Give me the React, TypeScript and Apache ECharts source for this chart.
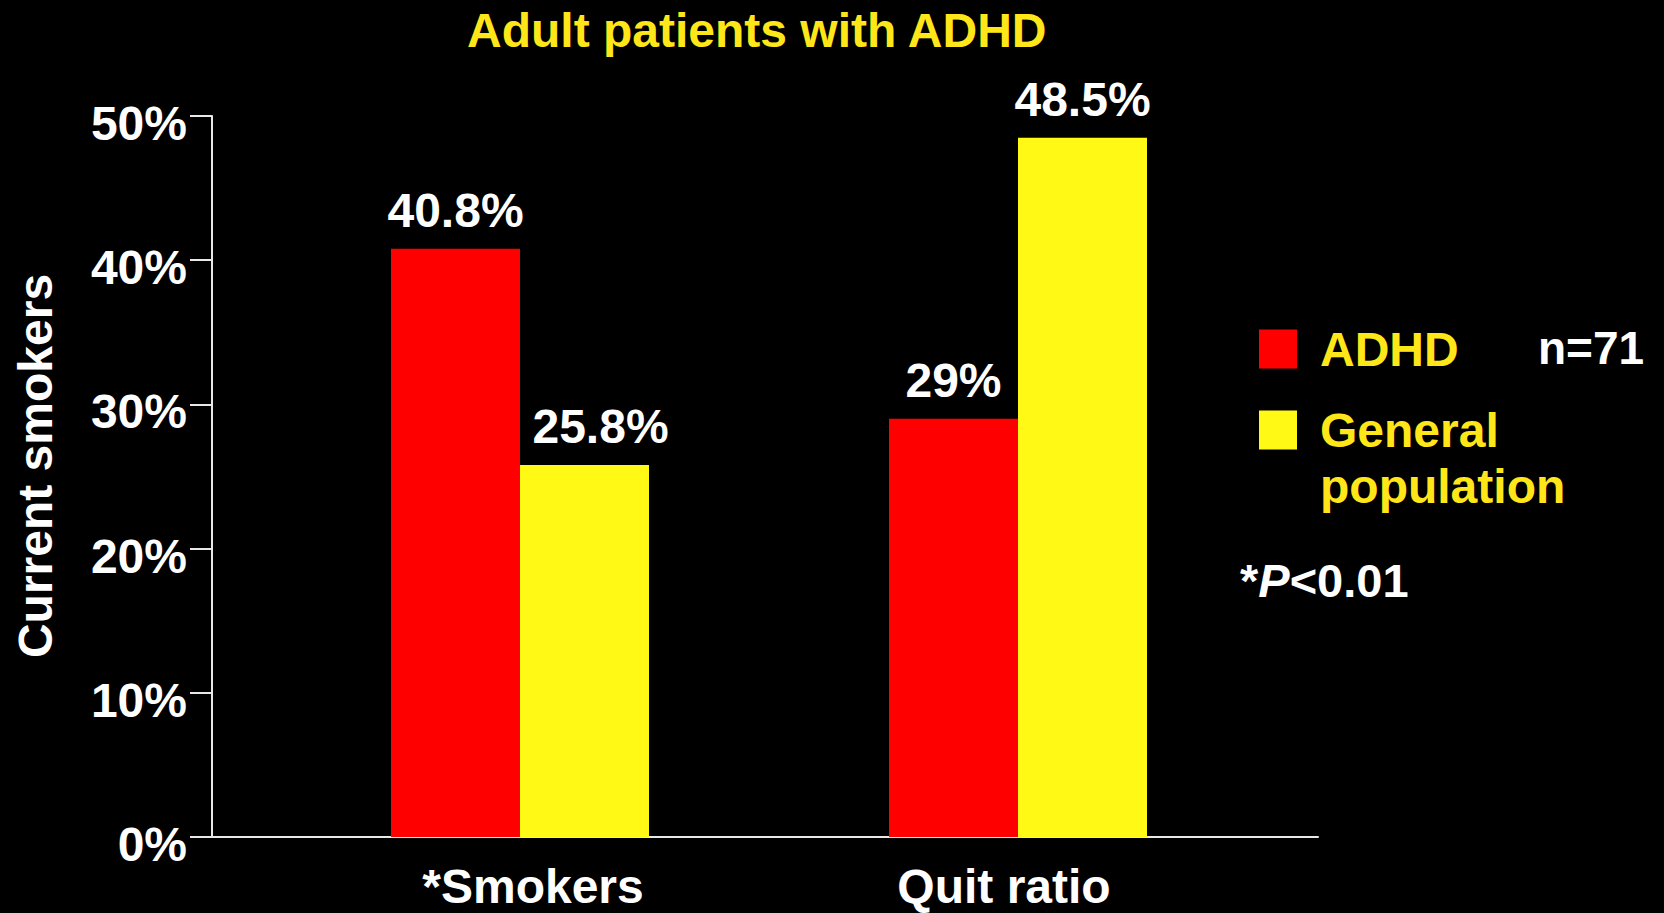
import { useEffect, useRef } from 'react';
import * as echarts from 'echarts';

// Chart data
const categories = ['*Smokers', 'Quit ratio'];
const seriesNames = ['ADHD', 'General population'];
const adhdValues = [40.8, 29];
const generalValues = [25.8, 48.5];
const axisMin = 0;
const axisMax = 50;
const axisStep = 10;
const titleText = 'Adult patients with ADHD';
const yAxisTitle = 'Current smokers';
const sampleNote = 'n=71';

// Styling
const FONT = '"Liberation Sans", Arial, Helvetica, sans-serif';
const WHITE = '#ffffff';
const RED = '#ff0000';
const YELLOW_BAR = '#fff915';
const YELLOW_TEXT = '#ffe619';
const AXIS_COLOR = '#e8e8e8';
const categoryLabelShift = [13, -14];
const generalLabelShift = [16, 0];

const plotTop = 116;
const plotBottom = 76;

export default function App() {
  const ref = useRef<HTMLDivElement>(null);

  useEffect(() => {
    document.body.style.margin = '0';
    document.body.style.background = '#000';
    if (!ref.current) return;
    const chart = echarts.init(ref.current, undefined, { renderer: 'svg' });

    const boldText = (size: number, color: string) => ({
      color,
      fontSize: size,
      fontWeight: 'bold' as const,
      fontFamily: FONT,
    });

    const option: any = {
      animation: false,
      backgroundColor: '#000000',
      textStyle: { fontFamily: FONT, fontWeight: 'bold' },
      title: {
        text: titleText,
        left: 467,
        top: 6,
        padding: 0,
        textStyle: boldText(48, YELLOW_TEXT),
      },
      legend: [
        {
          data: [seriesNames[0]],
          orient: 'vertical',
          left: 1259,
          top: 325,
          padding: 0,
          icon: 'rect',
          itemWidth: 38,
          itemHeight: 39,
          selectedMode: false,
          textStyle: { ...boldText(48, YELLOW_TEXT), padding: [0, 0, 0, 18] },
        },
        {
          data: [seriesNames[1]],
          orient: 'vertical',
          left: 1259,
          top: 346,
          padding: 0,
          icon: 'rect',
          itemWidth: 38,
          itemHeight: 39,
          selectedMode: false,
          // blank first line keeps the swatch level with "General"
          formatter: (name: string) => ' \n' + name.replace(' ', '\n'),
          textStyle: { ...boldText(48, YELLOW_TEXT), lineHeight: 56, padding: [0, 0, 0, 18] },
        },
      ],
      grid: [
        { left: 212, right: 346, top: plotTop, bottom: plotBottom },
        { left: 271, right: 397, top: plotTop, bottom: plotBottom },
      ],
      xAxis: [
        {
          type: 'category',
          gridIndex: 0,
          data: categories,
          axisLine: { show: true, lineStyle: { color: AXIS_COLOR, width: 2 } },
          axisTick: { show: false },
          axisLabel: { show: false },
          splitLine: { show: false },
        },
        {
          type: 'category',
          gridIndex: 1,
          data: categories.map((c, i) => ({
            value: c,
            textStyle: {
              padding: categoryLabelShift[i] >= 0
                ? [0, 0, 0, categoryLabelShift[i] * 2]
                : [0, -categoryLabelShift[i] * 2, 0, 0],
            },
          })),
          axisLine: { show: false },
          axisTick: { show: false },
          splitLine: { show: false },
          axisLabel: { ...boldText(48, WHITE), margin: 29, lineHeight: 40, interval: 0 },
        },
      ],
      yAxis: [
        {
          type: 'value',
          gridIndex: 0,
          min: axisMin,
          max: axisMax,
          interval: axisStep,
          axisLine: { show: true, lineStyle: { color: AXIS_COLOR, width: 2 } },
          axisTick: { show: true, length: 22, lineStyle: { color: AXIS_COLOR, width: 2 } },
          splitLine: { show: false },
          axisLabel: {
            ...boldText(48, WHITE),
            margin: 25,
            formatter: '{value}%',
            verticalAlign: 'top',
            lineHeight: 15,
          },
          name: yAxisTitle,
          nameLocation: 'middle',
          nameGap: 153,
          nameTextStyle: { ...boldText(48, WHITE), padding: [0, 0, 0, 21] },
        },
        {
          type: 'value',
          gridIndex: 1,
          min: axisMin,
          max: axisMax,
          interval: axisStep,
          show: false,
          splitLine: { show: false },
        },
      ],
      series: [
        {
          name: seriesNames[0],
          type: 'bar',
          xAxisIndex: 1,
          yAxisIndex: 1,
          data: adhdValues,
          barWidth: 129,
          barGap: '0%',
          itemStyle: { color: RED },
          label: {
            show: true,
            position: 'top',
            distance: 14,
            formatter: (p: any) => `${p.value}%`,
            ...boldText(48, WHITE),
          },
        },
        {
          name: seriesNames[1],
          type: 'bar',
          xAxisIndex: 1,
          yAxisIndex: 1,
          data: generalValues.map((v, i) => ({
            value: v,
            label: { offset: [generalLabelShift[i], 0] },
          })),
          barWidth: 129,
          barGap: '0%',
          itemStyle: { color: YELLOW_BAR },
          label: {
            show: true,
            position: 'top',
            distance: 14,
            formatter: (p: any) => `${p.value}%`,
            ...boldText(48, WHITE),
          },
        },
      ],
      graphic: [
        {
          type: 'text',
          x: 1538,
          y: 348,
          style: {
            text: sampleNote,
            fill: WHITE,
            font: `bold 46px ${FONT}`,
            align: 'left',
            verticalAlign: 'middle',
          },
        },
        {
          type: 'text',
          x: 1240,
          y: 580,
          style: {
            text: '{a|*}{b|P}{a|<0.01}',
            fill: WHITE,
            font: `bold 47px ${FONT}`,
            align: 'left',
            verticalAlign: 'middle',
            rich: {
              a: { fill: WHITE, fontSize: 47, fontWeight: 'bold', fontFamily: FONT },
              b: { fill: WHITE, fontSize: 47, fontWeight: 'bold', fontStyle: 'italic', fontFamily: FONT },
            },
          },
        },
      ],
    };

    chart.setOption(option);
    return () => chart.dispose();
  }, []);

  return (
    <div
      ref={ref}
      style={{ position: 'absolute', left: 0, top: 0, width: 1664, height: 913, background: '#000' }}
    />
  );
}
